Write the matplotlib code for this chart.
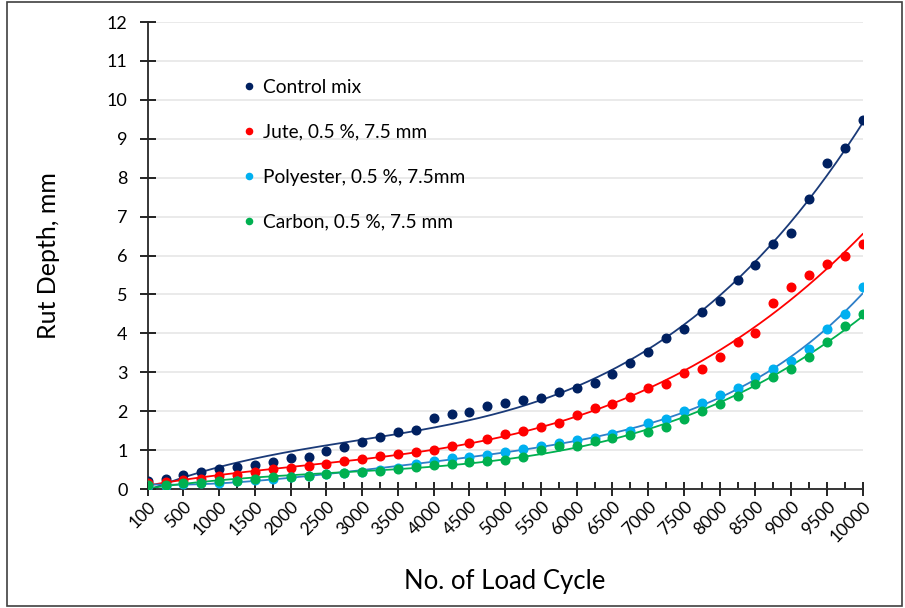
import numpy as np
import matplotlib.pyplot as plt
from matplotlib.patches import Rectangle

plt.rcParams['font.family'] = ['Lato', 'DejaVu Sans']

# load cycles (category axis) and rut depth readings, mm
cycles = [100, 250, 500, 750, 1000, 1250, 1500, 1750, 2000, 2250,
          2500, 2750, 3000, 3250, 3500, 3750, 4000, 4250, 4500, 4750,
          5000, 5250, 5500, 5750, 6000, 6250, 6500, 6750, 7000, 7250,
          7500, 7750, 8000, 8250, 8500, 8750, 9000, 9250, 9500, 9750,
          10000]

control = [0.21, 0.27, 0.36, 0.44, 0.51, 0.56, 0.62, 0.69, 0.79, 0.83,
           0.97, 1.09, 1.21, 1.34, 1.46, 1.52, 1.82, 1.92, 1.99, 2.13,
           2.20, 2.28, 2.33, 2.50, 2.60, 2.73, 2.95, 3.25, 3.51, 3.87,
           4.10, 4.54, 4.84, 5.37, 5.75, 6.29, 6.59, 7.45, 8.39, 8.77,
           9.49]
jute = [0.15, 0.19, 0.23, 0.27, 0.33, 0.36, 0.45, 0.51, 0.55, 0.60,
        0.65, 0.71, 0.78, 0.85, 0.91, 0.96, 1.00, 1.10, 1.19, 1.29,
        1.41, 1.50, 1.60, 1.70, 1.90, 2.07, 2.19, 2.37, 2.59, 2.69,
        2.98, 3.09, 3.40, 3.79, 4.00, 4.79, 5.18, 5.49, 5.78, 5.99,
        6.30]
polyester = [0.08, 0.09, 0.13, 0.15, 0.16, 0.20, 0.23, 0.27, 0.32, 0.34,
             0.39, 0.40, 0.45, 0.49, 0.53, 0.64, 0.72, 0.79, 0.81, 0.87,
             0.94, 1.02, 1.11, 1.17, 1.26, 1.32, 1.41, 1.50, 1.69, 1.80,
             2.01, 2.20, 2.41, 2.60, 2.89, 3.09, 3.30, 3.59, 4.10, 4.49,
             5.20]
carbon = [0.10, 0.10, 0.15, 0.16, 0.21, 0.21, 0.27, 0.30, 0.32, 0.34,
          0.38, 0.40, 0.44, 0.47, 0.51, 0.56, 0.62, 0.64, 0.69, 0.72,
          0.75, 0.81, 1.00, 1.10, 1.11, 1.24, 1.30, 1.39, 1.46, 1.60,
          1.80, 2.00, 2.19, 2.40, 2.69, 2.89, 3.09, 3.39, 3.79, 4.19,
          4.49]

# name, values, marker colour, trendline colour, polynomial order
series = [
    ('Control mix', control, '#002060', '#1a3a78', 3),
    ('Jute, 0.5 %, 7.5 mm', jute, '#ff0000', '#ff0000', 3),
    ('Polyester, 0.5 %, 7.5mm', polyester, '#00b0f0', '#2e7fc8', 4),
    ('Carbon, 0.5 %, 7.5 mm', carbon, '#00b050', '#00b050', 3),
]

fig = plt.figure(figsize=(9.05, 6.08), dpi=100)
ax = fig.add_axes([0.1632, 0.1957, 0.79, 0.7681])

idx = np.arange(len(cycles))
xs = np.linspace(0, len(cycles) - 1, 300)
for name, vals, c, tc, order in series:
    ax.plot(idx, vals, 'o', ms=6.2, color=c, label=name, zorder=3)
    p = np.polyfit(idx, vals, order)
    ax.plot(xs, np.polyval(p, xs), '-', lw=1.3, color=tc, zorder=2)

ax.set_xlim(0, len(cycles) - 1)
ax.set_ylim(0, 12)
ax.set_yticks(range(0, 13))
ax.set_xticks(idx[::2])
ax.set_xticklabels([str(c) for c in cycles[::2]], rotation=45,
                   ha='right', rotation_mode='anchor', fontsize=12.5)
ax.set_xticks(idx[1::2], minor=True)
ax.tick_params(axis='y', direction='inout', length=11, width=1.2,
               labelsize=13, pad=9)
ax.tick_params(axis='x', which='major', direction='inout', length=10,
               width=1.2, pad=2)
ax.tick_params(axis='x', which='minor', direction='in', length=5, width=1.2)

ax.grid(axis='y', color='#e6e6e6', lw=1.2)
ax.set_axisbelow(True)
for s in ['top', 'right']:
    ax.spines[s].set_visible(False)
for s in ['left', 'bottom']:
    ax.spines[s].set_color('#262626')
    ax.spines[s].set_linewidth(1.3)

ax.set_ylabel('Rut Depth, mm', fontsize=18, labelpad=34)
ax.set_xlabel('No. of Load Cycle', fontsize=18.5, labelpad=17)

ax.legend(loc='upper left', bbox_to_anchor=(0.109, 0.915), frameon=False,
          fontsize=13.8, markerscale=0.72, handlelength=0.6,
          handletextpad=0.45, labelspacing=1.45)

fig.add_artist(Rectangle((0.008, 0.004), 0.989, 0.992, transform=fig.transFigure,
                         fill=False, edgecolor='#404040', lw=1.2))

fig.savefig('out.png', dpi=100)
